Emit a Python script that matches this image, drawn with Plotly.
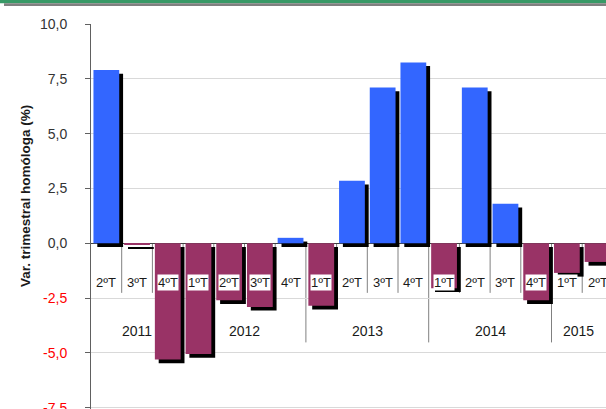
import plotly.graph_objects as go

# ---- data ----
years = ["2011", "2012", "2013", "2014", "2015"]
quarters_per_year = [3, 4, 4, 4, 2]
quarters = ["2ºT", "3ºT", "4ºT",
            "1ºT", "2ºT", "3ºT", "4ºT",
            "1ºT", "2ºT", "3ºT", "4ºT",
            "1ºT", "2ºT", "3ºT", "4ºT",
            "1ºT", "2ºT"]
values = [7.9, -0.05, -5.3,
          -5.05, -2.6, -2.9, 0.25,
          -2.85, 2.85, 7.1, 8.25,
          -2.05, 7.1, 1.8, -2.6,
          -1.35, -0.85]
y_ticks = [-7.5, -5.0, -2.5, 0.0, 2.5, 5.0, 7.5, 10.0]
y_title = "Var. trimestral homóloga (%)"

# ---- styles ----
BLUE = "#3366FF"
PINK = "#993366"
FONT = "Arial, Liberation Sans, sans-serif"
n = len(values)
x = list(range(n))
x_max = 16.275
y_min = -7.556
bar_w = 0.84
shadow_dx = 0.125
shadow_dy = -0.17

colors = [BLUE if v >= 0 else PINK for v in values]

fig = go.Figure()
fig.add_trace(go.Bar(
    x=x, y=values, base=[shadow_dy] * n,
    width=bar_w, offset=-bar_w / 2 + shadow_dx,
    marker=dict(color="black", line=dict(width=0)),
    hoverinfo="skip", showlegend=False,
))
fig.add_trace(go.Bar(
    x=x, y=values,
    width=bar_w, offset=-bar_w / 2,
    marker=dict(color=colors, line=dict(width=0)),
    showlegend=False,
))

# separators
year_bounds = set()
acc = 0
for c in quarters_per_year[:-1]:
    acc += c
    year_bounds.add(acc - 1)

shapes = []
for i in range(n - 1):
    shapes.append(dict(
        type="line", xref="x", yref="y", x0=i + 0.5, x1=i + 0.5,
        y0=0, y1=-4.52 if i in year_bounds else -2.26,
        line=dict(color="#808080", width=1), layer="below"))

# header bands (pixel -> paper conversion)
L, T, B = 91, 24, 0
W, H = 606 - L, 409 - T - B
def px_x(p):
    return (p - L) / W
def px_y(p):
    return (409 - B - p) / H
shapes.append(dict(type="rect", xref="paper", yref="paper",
                   x0=px_x(0), x1=px_x(606), y0=px_y(3.3), y1=px_y(0),
                   fillcolor="#389966", line=dict(width=0)))
shapes.append(dict(type="rect", xref="paper", yref="paper",
                   x0=px_x(4), x1=px_x(606), y0=px_y(6), y1=px_y(3.3),
                   fillcolor="#808080", line=dict(width=0)))

annotations = []
for i, q in enumerate(quarters):
    annotations.append(dict(
        x=i, y=-1.79, xref="x", yref="y", text=q, showarrow=False,
        font=dict(family=FONT, size=13, color="#1a1a1a"),
        bgcolor="white", borderpad=0))

start = 0
for yr, c in zip(years, quarters_per_year):
    lo = start - 0.5
    hi = min(start + c - 0.5, x_max)
    annotations.append(dict(
        x=(lo + hi) / 2, y=-3.99, xref="x", yref="y", text=yr,
        showarrow=False, font=dict(family=FONT, size=14, color="#1a1a1a")))
    start += c

annotations.append(dict(
    x=px_x(16), y=px_y(103.5), xref="paper", yref="paper", text="<b>" + y_title + "</b>",
    textangle=-90, showarrow=False, font=dict(family=FONT, size=13.5, color="#1a1a1a")))

def fmt(v):
    s = f"{v:.1f}".replace(".", ",")
    return f"<span style='color:#ff0000'>{s}</span>" if v < 0 else s

fig.update_layout(
    width=606, height=409,
    margin=dict(l=L, r=0, t=T, b=B, autoexpand=False),
    paper_bgcolor="white", plot_bgcolor="white",
    barmode="overlay",
    shapes=shapes, annotations=annotations,
    font=dict(family=FONT, size=14, color="#333333"),
    xaxis=dict(range=[-0.5, x_max], showticklabels=False, showgrid=False,
               zeroline=False, showline=False, ticks="", automargin=False),
    yaxis=dict(range=[y_min, 10], tickvals=y_ticks, ticktext=[fmt(v) for v in y_ticks],
               showgrid=True, gridcolor="#d9d9d9", gridwidth=1,
               zeroline=True, zerolinecolor="#404040", zerolinewidth=1,
               showline=True, linecolor="#606060", linewidth=1,
               ticks="outside", ticklen=5, tickcolor="#606060",
               ticklabelstandoff=15, ticklabeloverflow="allow", automargin=False,
               tickfont=dict(family=FONT, size=14, color="#333333")),
)

fig.write_html("out.html",
               config={"displayModeBar": False},
               post_script="document.body.style.margin='0';document.body.style.overflow='hidden';")
